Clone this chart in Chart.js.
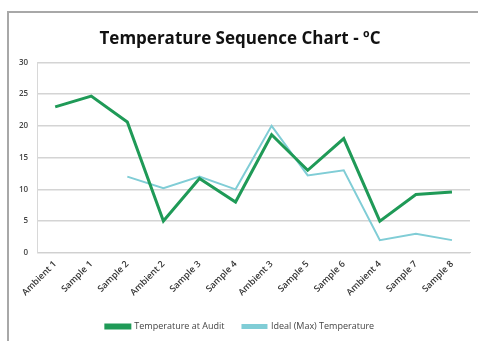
<!DOCTYPE html>
<html><head><meta charset="utf-8">
<script src="https://cdn.jsdelivr.net/npm/chart.js@4/dist/chart.umd.min.js"></script>
<style>
html,body{margin:0;padding:0;background:#fff;overflow:hidden}
#frame{position:absolute;left:7px;top:11px;width:480px;height:340px;border:2px solid #a8a8a8;box-sizing:border-box}
#wrap{position:absolute;left:0;top:0;width:478px;height:341px}
</style></head>
<body>
<div id="frame"></div>
<div id="wrap"><canvas id="c" width="478" height="341"></canvas></div>
<script>
const categories = ["Ambient 1","Sample 1","Sample 2","Ambient 2","Sample 3","Sample 4","Ambient 3","Sample 5","Sample 6","Ambient 4","Sample 7","Sample 8"];
const auditTemps = [23, 24.7, 20.6, 5, 11.7, 8, 18.6, 13, 18, 5, 9.2, 9.6];
const idealMaxTemps = [null, null, 12, 10.2, 12, 10, 20, 12.2, 13, 2, 3, 2];
const yTicks = [0, 5, 10, 15, 20, 25, 30];

new Chart(document.getElementById('c'), {
  type: 'line',
  data: {
    labels: categories,
    datasets: [
      {label: 'Temperature at Audit', data: auditTemps, borderColor: '#1f9a57', backgroundColor: '#1f9a57', borderWidth: 3, pointRadius: 0, tension: 0},
      {label: 'Ideal (Max) Temperature', data: idealMaxTemps, borderColor: '#80cdd6', backgroundColor: '#80cdd6', borderWidth: 2, pointRadius: 0, tension: 0}
    ]
  },
  options: {
    responsive: false,
    animation: false,
    layout: {padding: {left: 10, right: 8, top: 25, bottom: 0}},
    plugins: {
      title: {display: true, text: 'Temperature Sequence Chart - \u00BAC', color: '#111', font: {family: 'Open Sans', size: 17, weight: 'bold'}, padding: {top: 4, bottom: 13}},
      legend: {position: 'bottom', labels: {boxWidth: 24, boxHeight: 3, color: '#444', font: {family: 'Open Sans', size: 9}, padding: 18}},
      tooltip: {enabled: false}
    },
    scales: {
      x: {
        offset: true,
        grid: {display: false, drawTicks: false},
        border: {color: '#d0d0d0'},
        ticks: {color: '#333', font: {family: 'Open Sans', size: 9, weight: '600'}, maxRotation: 45, minRotation: 45, autoSkip: false, padding: 6}
      },
      y: {
        min: 0, max: 30,
        afterBuildTicks: s => { s.ticks = yTicks.map(v => ({value: v})); },
        grid: {color: '#d4d4d4', lineWidth: 1.5, drawTicks: false},
        border: {display: true, color: '#d8d8d8'},
        ticks: {color: '#444', font: {family: 'Open Sans', size: 8, weight: '600'}, padding: 9}
      }
    }
  }
});
</script>
</body></html>
